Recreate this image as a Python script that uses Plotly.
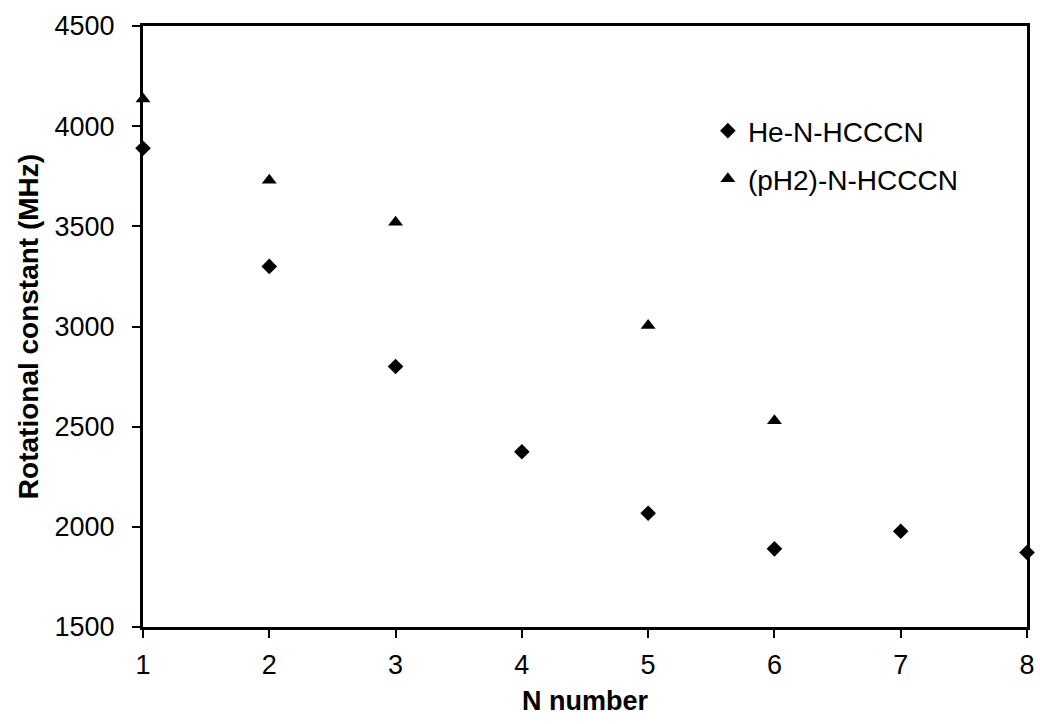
import plotly.graph_objects as go

he_n = [1, 2, 3, 4, 5, 6, 7, 8]
he_b = [3890, 3300, 2800, 2375, 2068, 1890, 1978, 1872]
ph2_n = [1, 2, 3, 5, 6]
ph2_b = [4135, 3730, 3520, 3005, 2530]
x_ticks = [1, 2, 3, 4, 5, 6, 7, 8]
y_ticks = [1500, 2000, 2500, 3000, 3500, 4000, 4500]

FONT = "Liberation Sans, Arial"

fig = go.Figure()
fig.add_trace(go.Scatter(x=he_n, y=he_b, mode="markers", name="He-N-HCCCN",
                         marker=dict(symbol="diamond", size=12, color="black"),
                         cliponaxis=False, legend="legend"))
fig.add_trace(go.Scatter(x=ph2_n, y=ph2_b, mode="markers", name="(pH2)-N-HCCCN",
                         marker=dict(symbol="triangle-up", size=13, color="black"),
                         cliponaxis=False, legend="legend2"))

axis_common = dict(showline=True, linecolor="black", linewidth=3, mirror=True,
                   ticks="outside", ticklen=8, tickwidth=2, tickcolor="black",
                   showgrid=False, zeroline=False, automargin=False,
                   tickfont=dict(family=FONT, size=27, color="black"))

fig.update_xaxes(range=[1, 8], tickvals=x_ticks, ticklabelstandoff=4,
                 title=dict(text="<b>N number</b>", font=dict(family=FONT, size=27, color="black"), standoff=12),
                 **axis_common)
fig.update_yaxes(range=[1500, 4500], tickvals=y_ticks, ticklabelstandoff=12,
                 title=dict(text="<b>Rotational constant (MHz)</b>", font=dict(family=FONT, size=28, color="black"), standoff=8),
                 **axis_common)

leg_common = dict(xanchor="left", yanchor="top", bgcolor="rgba(0,0,0,0)", borderwidth=0,
                  font=dict(family=FONT, size=28, color="black"), itemwidth=30)

fig.update_layout(width=1040, height=724,
                  margin=dict(l=143, r=13, t=26, b=97, autoexpand=False),
                  paper_bgcolor="white", plot_bgcolor="white",
                  showlegend=True,
                  legend=dict(x=0.639, y=0.867, **leg_common),
                  legend2=dict(x=0.639, y=0.787, **leg_common))

fig.write_html("out.html", config={"displayModeBar": False},
               post_script="document.body.style.margin='0';document.body.style.overflow='hidden';")
